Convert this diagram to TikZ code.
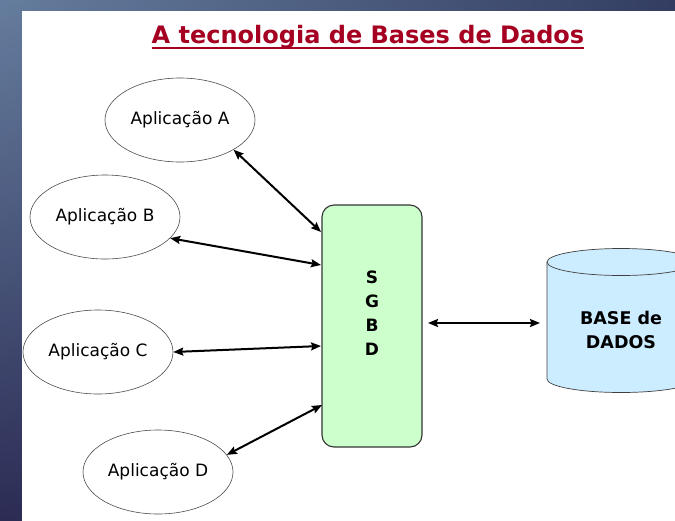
\documentclass[tikz,border=0pt]{standalone}
\usepackage{fontspec}
\setmainfont{DejaVu Sans}
\usetikzlibrary{shapes.geometric,arrows.meta,calc,shadings}
\definecolor{titlered}{HTML}{A50021}
\definecolor{sgbdgreen}{HTML}{CCFFCC}
\definecolor{dbblue}{HTML}{CCECFF}
\definecolor{bgA}{HTML}{657D9E}
\definecolor{bgB}{HTML}{2C2C55}
\definecolor{bgC}{HTML}{333D62}
\definecolor{bgD}{HTML}{2A2B50}
\tikzset{
  app/.style={ellipse, draw=black!70, line width=0.6pt, minimum width=150pt, minimum height=84pt, inner sep=0pt, font=\fontsize{17}{20}\selectfont},
  sgbdbox/.style={draw=black!80, line width=1.1pt, rounded corners=12pt, fill=sgbdgreen, minimum width=100pt, minimum height=242pt, inner sep=0pt},
  link/.style={{Stealth[length=10pt,width=8pt,inset=1.5pt]}-{Stealth[length=10pt,width=8pt,inset=1.5pt]}, line width=2pt, black}
}
\begin{document}
\begin{tikzpicture}[x=1pt,y=-1pt]
\useasboundingbox (0,0) rectangle (675,520);
\shade[upper left=bgA, lower left=bgB, upper right=bgC, lower right=bgD] (0,0) rectangle (675,520);
\fill[white] (22,11) rectangle (680,525);
% title
\node[anchor=base, inner sep=0pt, text=titlered, font=\bfseries\fontsize{24}{28}\selectfont] (T) at (368,43) {A tecnologia de Bases de Dados};
\draw[titlered, line width=2pt] ($(T.base west)+(0,4.5)$) -- ($(T.base east)+(0,4.5)$);
% applications
\node[app] (A) at (180,120) {Aplicação A};
\node[app] (B) at (105,217) {Aplicação B};
\node[app] (C) at (98,352) {Aplicação C};
\node[app] (D) at (158,472) {Aplicação D};
% SGBD
\node[sgbdbox] (S) at (372,326) {};
\node[font=\bfseries\fontsize{17}{24}\selectfont, align=center, inner sep=0pt] (SL) at (372,313) {S\\G\\B\\D};
% database cylinder
\begin{scope}
\clip (0,0) rectangle (675,520);
\fill[dbblue] (547,262) -- (547,379) arc[start angle=180, end angle=360, x radius=74, y radius=-13.5] -- (695,262) -- cycle;
\fill[dbblue] (621,262) ellipse [x radius=74, y radius=13.5];
\draw[black!75, line width=0.7pt] (547,262) -- (547,379) arc[start angle=180, end angle=360, x radius=74, y radius=-13.5] -- (695,262);
\draw[black!75, line width=0.7pt] (621,262) ellipse [x radius=74, y radius=13.5];
\end{scope}
\node[font=\bfseries\fontsize{17.5}{24}\selectfont, align=center, inner sep=0pt] (DB) at (621,330) {BASE de\\DADOS};
\coordinate (DBw) at (547,323);
% box edge points
\coordinate (sA) at (321,232);
\coordinate (sB) at (321,265);
\coordinate (sC) at (321,346);
\coordinate (sD) at (322,405);
\coordinate (sE) at (428,323);
% connectors
\draw[link] (A.-29) -- (sA);
\draw[link] (B.-18) -- (sB);
\draw[link] (C.east) -- (sC);
\draw[link] (D.14) -- (sD);
\draw[link, shorten >=7pt] (sE) -- (DBw);
\end{tikzpicture}
\end{document}
